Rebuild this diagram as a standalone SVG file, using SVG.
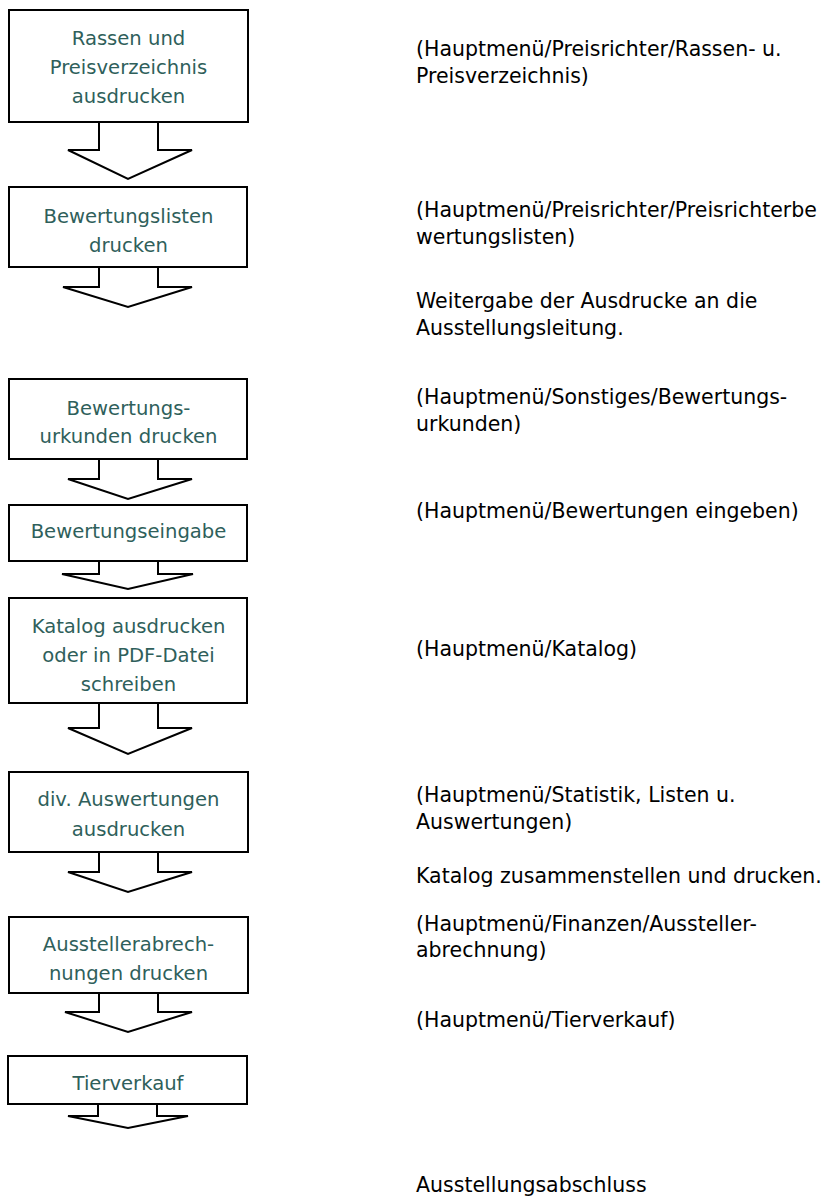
<svg xmlns="http://www.w3.org/2000/svg" width="826" height="1197" viewBox="0 0 826 1197">
<style>
.box{fill:#fff;stroke:#000;stroke-width:2}
.arr{fill:#fff;stroke:#000;stroke-width:2;stroke-linejoin:miter}
.bt{font-family:"DejaVu Sans","Liberation Sans",sans-serif;font-size:19.6px;fill:#2f5f5b;text-anchor:middle}
.nt{font-family:"DejaVu Sans","Liberation Sans",sans-serif;font-size:20.5px;fill:#000}
</style>
<rect width="826" height="1197" fill="#fff"/>
<g id="connectors">
<polyline class="arr" points="99,122 99,150 68,150 128,179 192,150 158,150 158,122"/>
<polyline class="arr" points="99,267 99,287 63,287 128,307 192,287 158,287 158,267"/>
<polyline class="arr" points="99,459 99,479 68,479 128,499 192,479 158,479 158,459"/>
<polyline class="arr" points="99,561 99,574 62,574 128,589 193,574 158,574 158,561"/>
<polyline class="arr" points="99,703 99,728 68,728 128,754 192,728 158,728 158,703"/>
<polyline class="arr" points="99,852 99,872 68,872 128,892 192,872 158,872 158,852"/>
<polyline class="arr" points="99,993 99,1012 65,1012 128,1032 192,1012 158,1012 158,993"/>
<polyline class="arr" points="98,1104 98,1116 68,1116 128,1128 188,1116 157,1116 157,1104"/>
</g>
<g id="n1"><rect class="box" x="9" y="10" width="239" height="112"/>
<text class="bt" x="128.5" y="45">Rassen und</text><text class="bt" x="128.5" y="74">Preisverzeichnis</text><text class="bt" x="128.5" y="103">ausdrucken</text></g>
<g id="n2"><rect class="box" x="9" y="187" width="238" height="80"/>
<text class="bt" x="128.5" y="223">Bewertungslisten</text><text class="bt" x="128.5" y="252">drucken</text></g>
<g id="n3"><rect class="box" x="9" y="379" width="238" height="80"/>
<text class="bt" x="128.5" y="415">Bewertungs-</text><text class="bt" x="128.5" y="443">urkunden drucken</text></g>
<g id="n4"><rect class="box" x="9" y="505" width="238" height="56"/>
<text class="bt" x="128.5" y="538">Bewertungseingabe</text></g>
<g id="n5"><rect class="box" x="9" y="598" width="238" height="105"/>
<text class="bt" x="128.5" y="633">Katalog ausdrucken</text><text class="bt" x="128.5" y="662">oder in PDF-Datei</text><text class="bt" x="128.5" y="691">schreiben</text></g>
<g id="n6"><rect class="box" x="9" y="772" width="239" height="80"/>
<text class="bt" x="128.5" y="806">div. Auswertungen</text><text class="bt" x="128.5" y="836">ausdrucken</text></g>
<g id="n7"><rect class="box" x="9" y="917" width="239" height="76"/>
<text class="bt" x="128.5" y="951">Ausstellerabrech-</text><text class="bt" x="128.5" y="980">nungen drucken</text></g>
<g id="n8"><rect class="box" x="8" y="1056" width="239" height="48"/>
<text class="bt" x="128" y="1090">Tierverkauf</text></g>
<g id="notes">
<text class="nt" x="416" y="56">(Hauptmenü/Preisrichter/Rassen- u.</text>
<text class="nt" x="416" y="83">Preisverzeichnis)</text>
<text class="nt" x="416" y="217">(Hauptmenü/Preisrichter/Preisrichterbe</text>
<text class="nt" x="416" y="244">wertungslisten)</text>
<text class="nt" x="416" y="308">Weitergabe der Ausdrucke an die</text>
<text class="nt" x="416" y="335">Ausstellungsleitung.</text>
<text class="nt" x="416" y="404">(Hauptmenü/Sonstiges/Bewertungs-</text>
<text class="nt" x="416" y="431">urkunden)</text>
<text class="nt" x="416" y="518">(Hauptmenü/Bewertungen eingeben)</text>
<text class="nt" x="416" y="656">(Hauptmenü/Katalog)</text>
<text class="nt" x="416" y="802">(Hauptmenü/Statistik, Listen u.</text>
<text class="nt" x="416" y="829">Auswertungen)</text>
<text class="nt" x="416" y="883">Katalog zusammenstellen und drucken.</text>
<text class="nt" x="416" y="931">(Hauptmenü/Finanzen/Aussteller-</text>
<text class="nt" x="416" y="957">abrechnung)</text>
<text class="nt" x="416" y="1027">(Hauptmenü/Tierverkauf)</text>
<text class="nt" x="416" y="1192">Ausstellungsabschluss</text>
</g>
</svg>
